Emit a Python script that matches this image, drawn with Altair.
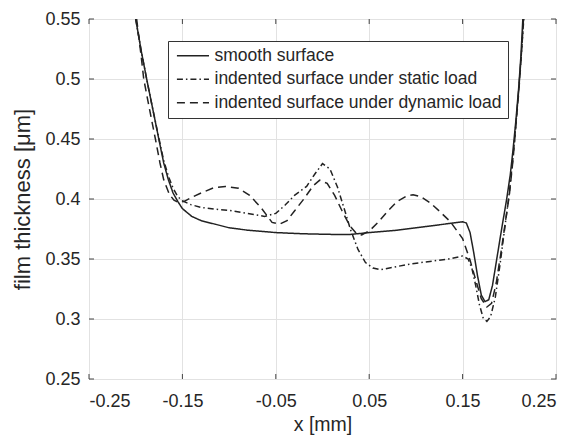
import altair as alt
import pandas as pd

# ---- data ----
smooth_x = [-0.200, -0.194, -0.188, -0.182, -0.175, -0.170, -0.165, -0.160, -0.155, -0.150,
            -0.140, -0.130, -0.115, -0.100, -0.080, -0.050, -0.020, 0.010, 0.030, 0.050,
            0.080, 0.110, 0.140, 0.150, 0.154, 0.158, 0.162, 0.166, 0.170, 0.174, 0.178,
            0.182, 0.187, 0.192, 0.197, 0.201, 0.204, 0.207, 0.210, 0.2125, 0.2145]
smooth_y = [0.550, 0.523, 0.499, 0.476, 0.449, 0.430, 0.416, 0.405, 0.398, 0.392,
            0.3855, 0.382, 0.379, 0.376, 0.374, 0.372, 0.371, 0.3705, 0.3705, 0.372,
            0.374, 0.377, 0.380, 0.381, 0.380, 0.372, 0.355, 0.336, 0.320, 0.3145, 0.316,
            0.328, 0.352, 0.376, 0.399, 0.420, 0.441, 0.465, 0.492, 0.520, 0.550]

static_x = [-0.200, -0.194, -0.188, -0.182, -0.175, -0.170, -0.165, -0.160, -0.155, -0.150,
            -0.141, -0.130, -0.115, -0.100, -0.080, -0.062, -0.050, -0.040, -0.030, -0.017,
            -0.008, 0.000, 0.008, 0.016, 0.024, 0.030, 0.038, 0.046, 0.054, 0.062, 0.075,
            0.095, 0.115, 0.135, 0.150, 0.156, 0.160, 0.164, 0.168, 0.172, 0.176, 0.180,
            0.185, 0.190, 0.195, 0.200, 0.204, 0.207, 0.210, 0.213, 0.2155]
static_y = [0.550, 0.523, 0.499, 0.476, 0.450, 0.432, 0.419, 0.409, 0.402, 0.3985,
            0.3953, 0.393, 0.3915, 0.3905, 0.388, 0.3855, 0.388, 0.395, 0.403, 0.4105,
            0.421, 0.4295, 0.425, 0.410, 0.390, 0.3744, 0.358, 0.347, 0.3425, 0.341, 0.343,
            0.346, 0.348, 0.350, 0.3525, 0.350, 0.342, 0.328, 0.312, 0.301, 0.298, 0.302,
            0.318, 0.345, 0.375, 0.405, 0.435, 0.462, 0.490, 0.522, 0.550]

dynamic_x = [-0.199, -0.194, -0.1914, -0.185, -0.1789, -0.174, -0.170, -0.164, -0.159, -0.154,
             -0.148, -0.141, -0.130, -0.117, -0.104, -0.090, -0.078, -0.066, -0.054, -0.046,
             -0.038, -0.030, -0.020, -0.010, -0.003, 0.005, 0.013, 0.021, 0.029, 0.036,
             0.042, 0.051, 0.060, 0.070, 0.080, 0.090, 0.097, 0.105, 0.115, 0.125, 0.137,
             0.150, 0.158, 0.165, 0.170, 0.176, 0.181, 0.186, 0.191, 0.196, 0.200, 0.204,
             0.207, 0.210, 0.213, 0.2152]
dynamic_y = [0.550, 0.518, 0.500, 0.474, 0.450, 0.430, 0.416, 0.404, 0.399, 0.397,
             0.398, 0.401, 0.405, 0.4092, 0.4105, 0.409, 0.403, 0.393, 0.3805, 0.379,
             0.382, 0.390, 0.400, 0.411, 0.4157, 0.413, 0.403, 0.390, 0.378, 0.3715,
             0.370, 0.374, 0.381, 0.390, 0.398, 0.4025, 0.4036, 0.402, 0.397, 0.390, 0.381,
             0.367, 0.349, 0.330, 0.317, 0.310, 0.313, 0.330, 0.355, 0.382, 0.403, 0.433,
             0.460, 0.488, 0.520, 0.550]

series_names = ["smooth surface",
                "indented surface under static load",
                "indented surface under dynamic load"]
dash_styles = [[1, 0], [6, 3, 1.5, 3], [8, 5]]

x_ticks = [-0.25, -0.15, -0.05, 0.05, 0.15, 0.25]
y_ticks = [0.25, 0.3, 0.35, 0.4, 0.45, 0.5, 0.55]

# ---- build tables ----
rows = []
for name, xs, ys in zip(series_names, [smooth_x, static_x, dynamic_x],
                        [smooth_y, static_y, dynamic_y]):
    for i, (a, b) in enumerate(zip(xs, ys)):
        rows.append({"series": name, "x": a, "y": b, "i": i})
df = pd.DataFrame(rows)
xt = pd.DataFrame({"v": x_ticks})
yt = pd.DataFrame({"v": y_ticks})

W, H = 467, 360
FONT = "Liberation Sans"
TXT = "#262626"

xscale = alt.Scale(domain=[-0.25, 0.25], nice=False, zero=False)
yscale = alt.Scale(domain=[0.25, 0.55], nice=False, zero=False)

lines = alt.Chart(df).mark_line(strokeWidth=1.5, color="#222222", clip=True).encode(
    x=alt.X("x:Q", scale=xscale, title="x [mm]",
            axis=alt.Axis(values=x_ticks, grid=True, ticks=False, domain=False,
                          labelExpr="(datum.value < 0 ? '-' : '') + format(abs(datum.value), '.2f')",
                          labelPadding=13, titlePadding=5, titleFontSize=19.5)),
    y=alt.Y("y:Q", scale=yscale, title="film thickness [μm]",
            axis=alt.Axis(values=y_ticks, grid=True, ticks=False, domain=False,
                          labelExpr="format(datum.value, '~g')",
                          labelPadding=9, titlePadding=10, titleFontSize=22)),
    strokeDash=alt.StrokeDash(
        "series:N",
        scale=alt.Scale(domain=series_names, range=dash_styles),
        legend=alt.Legend(title=None, orient="none", legendX=79, legendY=22,
                          symbolType="M-1,0H4.5", symbolSize=136, symbolStrokeWidth=1.5,
                          symbolStrokeColor="#222222", labelFontSize=17.5, labelFont=FONT,
                          labelColor=TXT, labelOffset=23, rowPadding=4.5,
                          padding=6, strokeColor="#333333", fillColor="white",
                          labelLimit=400)),
    order="i:Q",
)

tick_len = 5
bottom_ticks = alt.Chart(xt).mark_rule(color="#444444", strokeWidth=1).encode(
    x=alt.X("v:Q", scale=xscale), y=alt.value(H), y2=alt.value(H - tick_len))
top_ticks = alt.Chart(xt).mark_rule(color="#444444", strokeWidth=1).encode(
    x=alt.X("v:Q", scale=xscale), y=alt.value(0), y2=alt.value(tick_len))
left_ticks = alt.Chart(yt).mark_rule(color="#444444", strokeWidth=1).encode(
    y=alt.Y("v:Q", scale=yscale), x=alt.value(0), x2=alt.value(tick_len))
right_ticks = alt.Chart(yt).mark_rule(color="#444444", strokeWidth=1).encode(
    y=alt.Y("v:Q", scale=yscale), x=alt.value(W), x2=alt.value(W - tick_len))

chart = alt.layer(bottom_ticks, top_ticks, left_ticks, right_ticks, lines).properties(
    width=W, height=H,
    autosize=alt.AutoSizeParams(type="none"),
    padding={"left": 81, "top": 11, "right": 12, "bottom": 62},
    background="white",
).configure_view(
    stroke="#444444", strokeWidth=1
).configure_axis(
    gridColor="#e2e2e2", gridWidth=1,
    labelFont=FONT, labelFontSize=18, labelColor=TXT,
    titleFont=FONT, titleColor=TXT, titleFontWeight="normal",
)

chart.save("out.html", embed_options={"renderer": "svg", "actions": False})
